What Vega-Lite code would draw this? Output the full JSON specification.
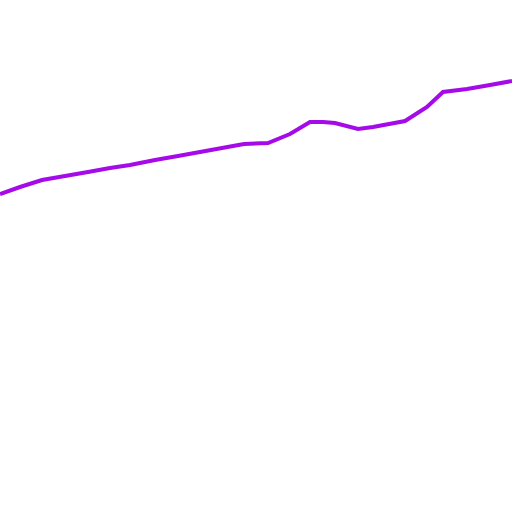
{"$schema":"https://vega.github.io/schema/vega-lite/v6.json","width":512,"height":512,"autosize":"none","padding":0,"background":"white","config":{"view":{"stroke":null}},"data":{"values":[{"x":0,"y":194},{"x":20,"y":187},{"x":42,"y":180},{"x":65,"y":176},{"x":88,"y":172},{"x":110,"y":168},{"x":130,"y":165},{"x":155,"y":160},{"x":178,"y":156},{"x":200,"y":152},{"x":222,"y":148},{"x":244,"y":144},{"x":268,"y":143},{"x":290,"y":134},{"x":310,"y":122},{"x":323,"y":122},{"x":335,"y":123},{"x":358,"y":129},{"x":373,"y":127},{"x":405,"y":121},{"x":427,"y":107},{"x":443,"y":92},{"x":467,"y":89},{"x":490,"y":85},{"x":512,"y":81}]},"mark":{"type":"line","color":"#a50ae8","strokeWidth":4},"encoding":{"x":{"field":"x","type":"quantitative","scale":{"domain":[0,512],"nice":false,"zero":false},"axis":null},"y":{"field":"y","type":"quantitative","scale":{"domain":[0,512],"reverse":true,"nice":false,"zero":false},"axis":null}}}
